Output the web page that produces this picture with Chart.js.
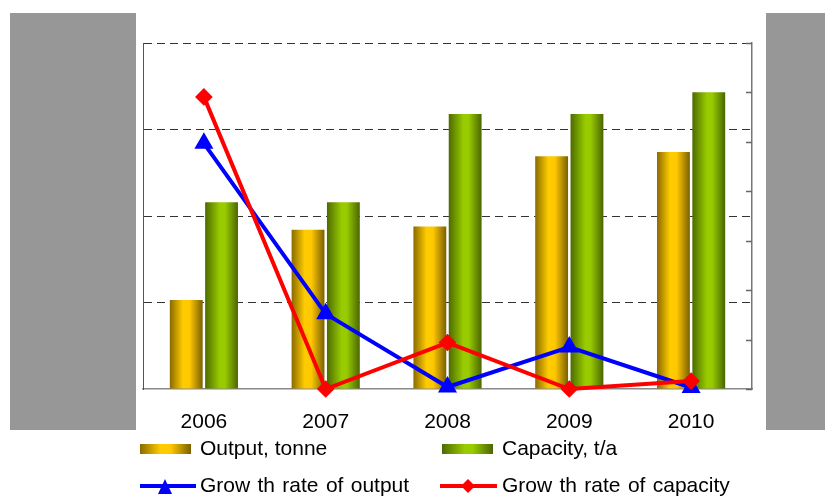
<!DOCTYPE html>
<html lang="en">
<head>
<meta charset="utf-8">
<title>Output and capacity 2006-2010</title>
<script src="https://cdn.jsdelivr.net/npm/chart.js"></script>
<style>
body { margin:0; background:#fff; font-family:"Liberation Sans", Arial, sans-serif; }
#page { position:relative; width:825px; height:497px; overflow:hidden; }
.side { position:absolute; top:13px; height:417px; background:#979797; }
#chartBox { position:absolute; left:0; top:0; width:825px; height:497px; }
.leg { position:absolute; font-size:21px; line-height:24px; color:#000; white-space:pre; }
.wide { word-spacing:1.5px; }
.swatch { position:absolute; width:51px; height:10px; }
.mark { position:absolute; }
</style>
</head>
<body>
<div id="page">
    <div class="side" style="left:10px; width:126px"></div>
    <div class="side" style="left:766px; width:59px"></div>
    <div id="chartBox"><canvas id="myChart"></canvas></div>

    <!-- legend -->
    <div class="swatch" style="left:140px; top:444px; background:linear-gradient(to right,#8a6a00,#ffcc00 40%,#ffc800 60%,#7a6000)"></div>
    <div class="leg" style="left:200px; top:436px">Output, tonne</div>
    <div class="swatch" style="left:442px; top:444px; background:linear-gradient(to right,#4d6b00,#99cc00 45%,#99cc00 60%,#4a6600)"></div>
    <div class="leg" style="left:502px; top:436px">Capacity, t/a</div>

    <svg class="mark" style="left:140px; top:476px" width="56" height="20">
        <line x1="0" y1="10" x2="56" y2="10" stroke="#0000ff" stroke-width="4"/>
        <polygon points="25,3 18,18 32,18" fill="#0000ff"/>
    </svg>
    <div class="leg wide" style="left:200px; top:473px">Grow th rate of output</div>
    <svg class="mark" style="left:440px; top:476px" width="57" height="20">
        <line x1="0" y1="10" x2="57" y2="10" stroke="#ff0000" stroke-width="4"/>
        <polygon points="28,3 35,10 28,17 21,10" fill="#ff0000"/>
    </svg>
    <div class="leg wide" style="left:502px; top:473px">Grow th rate of capacity</div>
</div>
<script>
// values (no axis labels, so arbitrary units)
var years = ['2006', '2007', '2008', '2009', '2010'];
var outputTonne = [1.03, 1.84, 1.88, 2.69, 2.74];
var capacityTa = [2.16, 2.16, 3.18, 3.18, 3.43];
var outputGrowth = [4.97, 1.52, 0.04, 0.85, 0.03];
var capacityGrowth = [5.91, 0, 0.94, 0, 0.16];
var barAxisMax = 4;
var lineAxisMax = 7;

var barColors = {
    output: [[0, '#8a6a00'], [0.4, '#ffcc00'], [0.6, '#ffc800'], [1, '#7a6000']],
    capacity: [[0, '#4d6b00'], [0.45, '#99cc00'], [0.6, '#99cc00'], [1, '#4a6600']]
};

// cylinder look: horizontal gradient across each bar
var cylinderBars = {
    id: 'cylinderBars',
    beforeDatasetDraw: function (chart, args) {
        var meta = args.meta;
        if (meta.type !== 'bar') return;
        var stops = barColors[chart.data.datasets[args.index].key];
        meta.data.forEach(function (el) {
            var g = chart.ctx.createLinearGradient(el.x - el.width / 2, 0, el.x + el.width / 2, 0);
            stops.forEach(function (s) { g.addColorStop(s[0], s[1]); });
            el.options = Object.assign({}, el.options, { backgroundColor: g });
        });
    }
};

// short tick marks pointing inside on the right axis
var innerTicks = {
    id: 'innerTicks',
    afterDraw: function (chart) {
        var s = chart.scales.y2;
        var ctx = chart.ctx;
        ctx.save();
        ctx.strokeStyle = '#666';
        ctx.lineWidth = 1.5;
        s.ticks.forEach(function (t) {
            var y = Math.round(s.getPixelForValue(t.value)) + 0.5;
            ctx.beginPath();
            ctx.moveTo(s.left - 6, y);
            ctx.lineTo(s.left, y);
            ctx.stroke();
        });
        ctx.restore();
    }
};

new Chart('myChart', {
    data: {
        labels: years,
        datasets: [{
            type: 'line',
            label: 'Grow th rate of capacity',
            data: capacityGrowth,
            yAxisID: 'y2',
            borderColor: '#ff0000',
            backgroundColor: '#ff0000',
            borderWidth: 4,
            pointStyle: 'rectRot',
            pointRadius: 6,
            tension: 0,
            clip: false,
            order: 0
        }, {
            type: 'line',
            label: 'Grow th rate of output',
            data: outputGrowth,
            yAxisID: 'y2',
            borderColor: '#0000ff',
            backgroundColor: '#0000ff',
            borderWidth: 4,
            pointStyle: 'triangle',
            pointRadius: 7,
            tension: 0,
            clip: false,
            order: 1
        }, {
            type: 'bar',
            key: 'output',
            label: 'Output, tonne',
            data: outputTonne,
            yAxisID: 'y',
            backgroundColor: '#ffcc00',
            categoryPercentage: 0.58,
            barPercentage: 0.93,
            order: 2
        }, {
            type: 'bar',
            key: 'capacity',
            label: 'Capacity, t/a',
            data: capacityTa,
            yAxisID: 'y',
            backgroundColor: '#99cc00',
            categoryPercentage: 0.58,
            barPercentage: 0.93,
            order: 2
        }]
    },
    options: {
        responsive: true,
        maintainAspectRatio: false,
        animation: false,
        layout: { padding: { left: 143, right: 73, top: 43, bottom: 0 } },
        plugins: { legend: { display: false }, tooltip: { enabled: false } },
        scales: {
            x: {
                grid: { display: false },
                border: { color: '#888', width: 1.5 },
                ticks: { color: '#000', padding: 13, font: { family: '"Liberation Sans", Arial', size: 21 } },
                afterFit: function (s) { s.height = 108; }
            },
            y: {
                position: 'left',
                min: 0,
                max: barAxisMax,
                ticks: { display: false, stepSize: 1 },
                grid: {
                    drawTicks: false,
                    color: function (c) { return c.tick && c.tick.value === 0 ? 'transparent' : '#333'; }
                },
                border: { color: '#555', width: 1, dash: [8, 5] }
            },
            y2: {
                position: 'right',
                min: 0,
                max: lineAxisMax,
                ticks: { display: false, stepSize: 1 },
                grid: { drawOnChartArea: false, drawTicks: false },
                border: { color: '#777', width: 1.5 }
            }
        }
    },
    plugins: [cylinderBars, innerTicks]
});
</script>
</body>
</html>
